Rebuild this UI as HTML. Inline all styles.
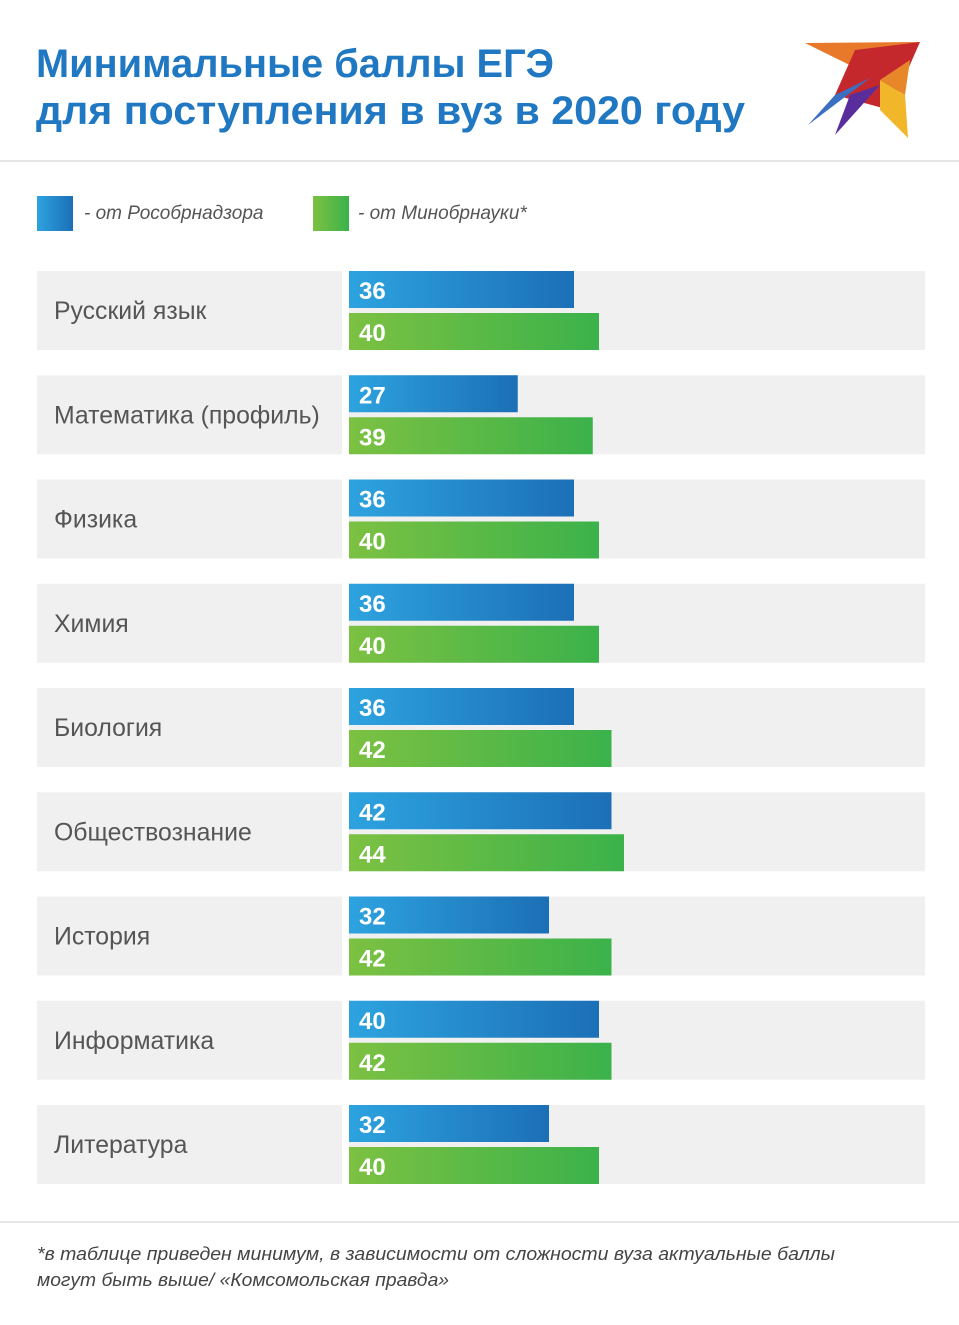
<!DOCTYPE html>
<html><head><meta charset="utf-8"><style>
body{margin:0;background:#fff;width:959px;height:1325px;overflow:hidden;font-family:"Liberation Sans","DejaVu Sans",sans-serif}
svg{display:block}
</style></head><body>
<svg width="959" height="1325" viewBox="0 0 959 1325">
<defs>
<linearGradient id="gb" x1="0" x2="1"><stop offset="0" stop-color="#2da3df"/><stop offset="1" stop-color="#1c6fb6"/></linearGradient>
<linearGradient id="gg" x1="0" x2="1"><stop offset="0" stop-color="#7cc142"/><stop offset="1" stop-color="#3bb24a"/></linearGradient>
</defs>
<text x="36" y="77" font-size="40" font-weight="bold" fill="#1f78c1" textLength="518" lengthAdjust="spacingAndGlyphs">Минимальные баллы ЕГЭ</text>
<text x="36" y="124" font-size="40" font-weight="bold" fill="#1f78c1" textLength="709" lengthAdjust="spacingAndGlyphs">для поступления в вуз в 2020 году</text>
<g>
<polygon points="805,43 920,42 880,80" fill="#e8792a"/>
<polygon points="855,50 920,42 890,110 835,95" fill="#c5282c"/>
<polygon points="835,95 870,78 808,125" fill="#3a6fc1"/>
<polygon points="850,95 880,85 835,135" fill="#5a2d9c"/>
<polygon points="880,80 905,95 908,138 880,110" fill="#f2b62a"/>
<polygon points="880,80 910,60 905,95" fill="#e8862a"/>
</g>
<rect x="0" y="160" width="959" height="2" fill="#e6e6e6"/>
<rect x="37" y="196" width="36" height="35" fill="url(#gb)"/>
<text x="84" y="219" font-size="19" font-style="italic" fill="#555">- от Рособрнадзора</text>
<rect x="313" y="196" width="36" height="35" fill="url(#gg)"/>
<text x="358" y="219" font-size="19" font-style="italic" fill="#555">- от Минобрнауки*</text>
<g id="rows"></g>
<rect x="0" y="1221" width="959" height="2" fill="#e6e6e6"/>
<text x="37" y="1260" font-size="18" font-style="italic" fill="#444" textLength="798" lengthAdjust="spacingAndGlyphs">*в таблице приведен минимум, в зависимости от сложности вуза актуальные баллы</text>
<text x="37" y="1286" font-size="18" font-style="italic" fill="#444" textLength="412" lengthAdjust="spacingAndGlyphs">могут быть выше/ «Комсомольская правда»</text>
</svg>
<script>
const categories=["Русский язык","Математика (профиль)","Физика","Химия","Биология","Обществознание","История","Информатика","Литература"];
const rosobrnadzor=[36,27,36,36,36,42,32,40,32];
const minobrnauki=[40,39,40,40,42,44,42,42,40];
const x0=349, pxPer=6.25, top0=271, pitch=104.25;
const xs=v=>v*pxPer;
const yRow=i=>top0+i*pitch;
const NS="http://www.w3.org/2000/svg";
const g=document.getElementById('rows');
function mk(t,a){const e=document.createElementNS(NS,t);for(const k in a)e.setAttribute(k,a[k]);g.appendChild(e);return e;}
categories.forEach((c,i)=>{
 const y=yRow(i);
 const bg=mk('rect',{x:37,y:y,width:888,height:79,fill:'#f0f0f1'});
 
 
 const gap=mk('rect',{x:342,y:y,width:7,height:79,fill:'#fff'});
 
 
 const lb=mk('text',{x:54,y:y+48,'font-size':24.8,fill:'#555'});lb.textContent=c;
 
 
 const b1=mk('rect',{x:x0,y:y,width:xs(rosobrnadzor[i]),height:37,fill:'url(#gb)'});
 
 
 const t1=mk('text',{x:x0+10,y:y+28,'font-size':24,'font-weight':'bold',fill:'#fff'});t1.textContent=rosobrnadzor[i];
 
 
 const b2=mk('rect',{x:x0,y:y+42,width:xs(minobrnauki[i]),height:37,fill:'url(#gg)'});
 
 
 const t2=mk('text',{x:x0+10,y:y+70,'font-size':24,'font-weight':'bold',fill:'#fff'});t2.textContent=minobrnauki[i];
 
 
});
</script>
</body></html>
